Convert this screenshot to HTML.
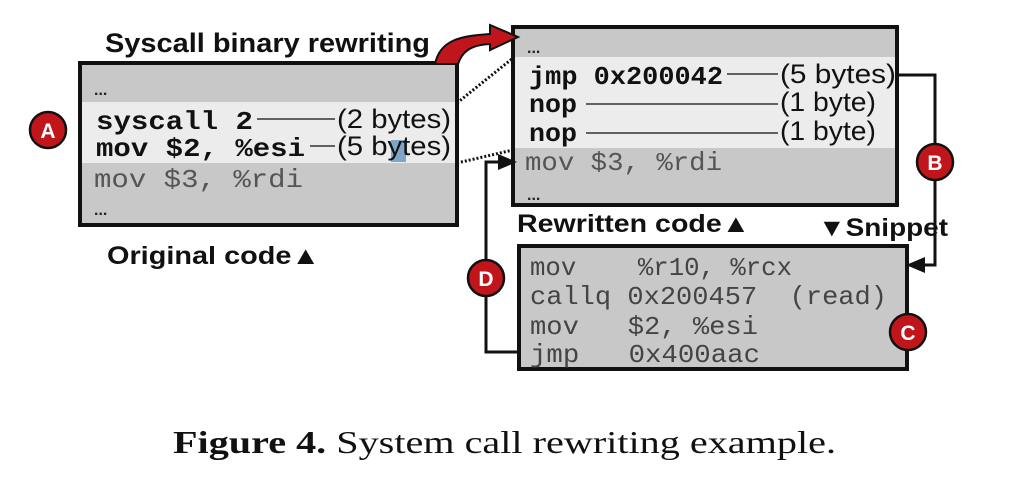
<!DOCTYPE html>
<html><head><meta charset="utf-8"><style>
html,body{margin:0;padding:0;background:#fff;width:1034px;height:484px;overflow:hidden}
svg{display:block}
.m{font-family:"Liberation Mono",monospace;font-size:26px}
.b{font-weight:bold}
.s{font-family:"Liberation Sans",sans-serif}
</style></head><body>
<svg width="1034" height="484" viewBox="0 0 1034 484" xmlns="http://www.w3.org/2000/svg">
<rect x="80" y="63" width="377" height="162" fill="#c8c8c8"/>
<rect x="80" y="102" width="377" height="61" fill="#ececec"/>
<rect x="80" y="63" width="377" height="162" fill="none" stroke="#111" stroke-width="4"/>
<text x="94" y="95" class="s" font-size="16" font-weight="bold" fill="#222">...</text>
<text x="96" y="129" class="m b" fill="#111" textLength="157" lengthAdjust="spacingAndGlyphs">syscall 2</text>
<line x1="257" y1="119" x2="335" y2="119" stroke="#333" stroke-width="1.5"/>
<text x="337" y="128" class="s" font-size="27" fill="#111" textLength="114" lengthAdjust="spacingAndGlyphs">(2 bytes)</text>
<text x="96" y="156" class="m b" fill="#111" textLength="209" lengthAdjust="spacingAndGlyphs">mov $2, %esi</text>
<line x1="310" y1="146" x2="335" y2="146" stroke="#333" stroke-width="1.5"/>
<rect x="391" y="140" width="15" height="22" fill="#7fa6c6"/>
<text x="337" y="155" class="s" font-size="27" fill="#111" textLength="114" lengthAdjust="spacingAndGlyphs">(5 bytes)</text>
<text x="94" y="187" class="m" fill="#555" textLength="209" lengthAdjust="spacingAndGlyphs">mov $3, %rdi</text>
<text x="94" y="215" class="s" font-size="16" font-weight="bold" fill="#222">...</text>
<text x="107" y="264" class="s b" font-size="25" fill="#111" textLength="213" lengthAdjust="spacingAndGlyphs">Original code▲</text>
<text x="105" y="52" class="s b" font-size="27" fill="#111" textLength="325" lengthAdjust="spacingAndGlyphs">Syscall binary rewriting</text>
<circle cx="48" cy="130" r="18" fill="#c0161b" stroke="#111" stroke-width="2.5"/>
<text x="48" y="138" text-anchor="middle" class="s b" font-size="21" fill="#fff">A</text>
<rect x="513" y="27" width="384" height="178" fill="#c8c8c8"/>
<rect x="513" y="57" width="384" height="91" fill="#ececec"/>
<rect x="513" y="27" width="384" height="178" fill="none" stroke="#111" stroke-width="4"/>
<text x="527" y="53" class="s" font-size="16" font-weight="bold" fill="#222">...</text>
<text x="529" y="84" class="m b" fill="#111" textLength="194" lengthAdjust="spacingAndGlyphs">jmp 0x200042</text>
<line x1="727" y1="74" x2="778" y2="74" stroke="#333" stroke-width="1.5"/>
<text x="780" y="83" class="s" font-size="27" fill="#111" textLength="116" lengthAdjust="spacingAndGlyphs">(5 bytes)</text>
<text x="529" y="112" class="m b" fill="#111" textLength="48" lengthAdjust="spacingAndGlyphs">nop</text>
<line x1="586" y1="104" x2="778" y2="104" stroke="#333" stroke-width="1.5"/>
<text x="780" y="111" class="s" font-size="27" fill="#111" textLength="96" lengthAdjust="spacingAndGlyphs">(1 byte)</text>
<text x="529" y="141" class="m b" fill="#111" textLength="48" lengthAdjust="spacingAndGlyphs">nop</text>
<line x1="586" y1="133" x2="778" y2="133" stroke="#333" stroke-width="1.5"/>
<text x="780" y="140" class="s" font-size="27" fill="#111" textLength="96" lengthAdjust="spacingAndGlyphs">(1 byte)</text>
<text x="525" y="170" class="m" fill="#555" textLength="197" lengthAdjust="spacingAndGlyphs">mov $3, %rdi</text>
<text x="527" y="200" class="s" font-size="16" font-weight="bold" fill="#222">...</text>
<text x="517" y="232" class="s b" font-size="25" fill="#111" textLength="233" lengthAdjust="spacingAndGlyphs">Rewritten code▲</text>
<text x="818" y="236" class="s b" font-size="25" fill="#111" textLength="130" lengthAdjust="spacingAndGlyphs">▼Snippet</text>
<rect x="519" y="246" width="388" height="123" fill="#c8c8c8" stroke="#111" stroke-width="4"/>
<text x="530" y="275" class="m" fill="#444" font-size="25" xml:space="preserve" textLength="262" lengthAdjust="spacingAndGlyphs">mov    %r10, %rcx</text>
<text x="530" y="304" class="m" fill="#444" font-size="25" xml:space="preserve" textLength="357" lengthAdjust="spacingAndGlyphs">callq 0x200457  (read)</text>
<text x="530" y="334" class="m" fill="#444" font-size="25" xml:space="preserve" textLength="228" lengthAdjust="spacingAndGlyphs">mov   $2, %esi</text>
<text x="530" y="362" class="m" fill="#444" font-size="25" xml:space="preserve" textLength="230" lengthAdjust="spacingAndGlyphs">jmp   0x400aac</text>
<line x1="457" y1="103" x2="513" y2="58" stroke="#111" stroke-width="3" stroke-dasharray="2,2"/>
<line x1="457" y1="163" x2="513" y2="150" stroke="#111" stroke-width="3" stroke-dasharray="2,2"/>
<polyline points="897,75 935,75 935,265 920,265" fill="none" stroke="#111" stroke-width="3"/>
<polygon points="925,257 925,273 906,265" fill="#111"/>
<polyline points="519,352 486,352 486,162 500,162" fill="none" stroke="#111" stroke-width="3"/>
<polygon points="498,154 498,170 517,162" fill="#111"/>
<circle cx="935" cy="162" r="18" fill="#c0161b" stroke="#111" stroke-width="2.5"/>
<text x="935" y="170" text-anchor="middle" class="s b" font-size="21" fill="#fff">B</text>
<circle cx="908" cy="332" r="18" fill="#c0161b" stroke="#111" stroke-width="2.5"/>
<text x="908" y="340" text-anchor="middle" class="s b" font-size="21" fill="#fff">C</text>
<circle cx="486" cy="278" r="18" fill="#c0161b" stroke="#111" stroke-width="2.5"/>
<text x="486" y="286" text-anchor="middle" class="s b" font-size="21" fill="#fff">D</text>
<path d="M435,64 C440,40 460,36 490,34 L490,25 L518,37 L490,50 L490,44 C470,45 462,52 458,64 Z" fill="#c0161b" stroke="#111" stroke-width="2"/>
<text x="173" y="453" font-family="'Liberation Serif',serif" font-size="32" fill="#111" textLength="663" lengthAdjust="spacingAndGlyphs"><tspan font-weight="bold">Figure 4.</tspan> System call rewriting example.</text>
</svg>
</body></html>
